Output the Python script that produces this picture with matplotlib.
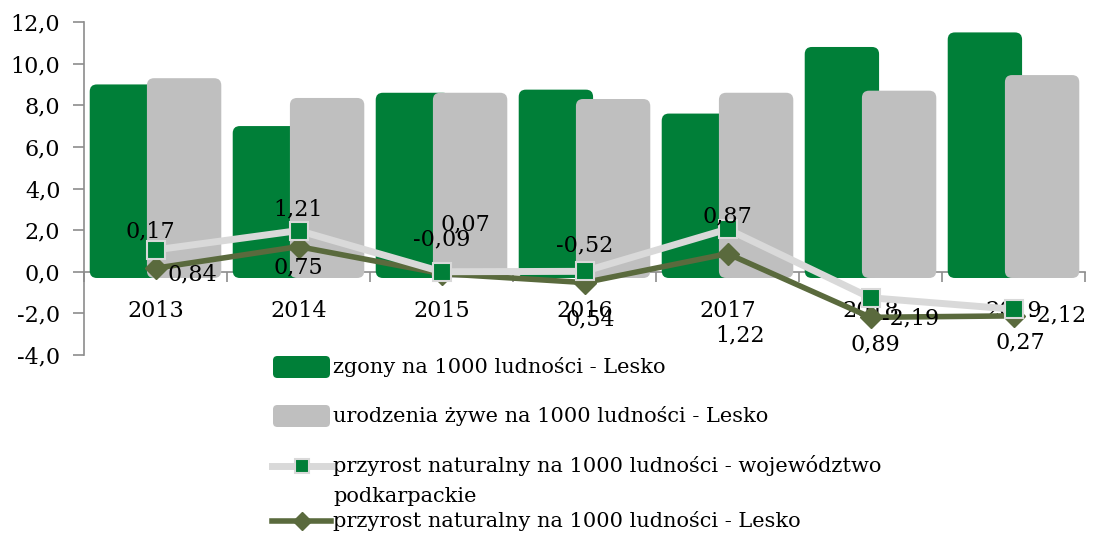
import matplotlib
matplotlib.use("Agg")
import matplotlib.pyplot as plt
from matplotlib.patches import FancyBboxPatch
from matplotlib.lines import Line2D
import numpy as np

years = ["2013", "2014", "2015", "2016", "2017", "2018", "2019"]
zgony = [9.0, 7.0, 8.6, 8.75, 7.6, 10.8, 11.5]
urodzenia = [9.3, 8.35, 8.6, 8.3, 8.6, 8.7, 9.45]
przyrost_woj = [1.05, 1.98, 0.0, 0.02, 2.05, -1.25, -1.8]
przyrost_lesko = [0.17, 1.21, -0.09, -0.52, 0.87, -2.19, -2.12]
labels_lesko = ["0,17", "1,21", "-0,09", "-0,52", "0,87", "-2,19", "-2,12"]
labels_other = ["0,84", "0,75", "0,07", "0,54", "1,22", "0,89", "0,27"]
y_ticks = [-4, -2, 0, 2, 4, 6, 8, 10, 12]

GREEN = "#007f38"
GRAY = "#bfbfbf"
LIGHT = "#d9d9d9"
OLIVE = "#5a6a3d"
AXIS = "#8c8c8c"
FONT = "DejaVu Serif"
FS = 16
FS_LEG = 15

plt.rcParams["font.family"] = [FONT, "DejaVu Sans"]

W, H = 1100, 534
fig = plt.figure(figsize=(W / 100, H / 100), dpi=100)
ax = fig.add_axes([84 / W, 1 - 355 / H, (1085 - 84) / W, (355 - 22) / H])

x = np.arange(len(years))
ax.set_xlim(-0.5, len(years) - 0.5)
ax.set_ylim(-4, 12)

bw = 0.52
off = 0.2
base = -0.3
xpp = 7 / (1085 - 84)
ypp = 16 / (355 - 22)
asp = ypp / xpp
for vals, sign, col, z in [(zgony, -1, GREEN, 2), (urodzenia, 1, GRAY, 3)]:
    for xi, v in zip(x, vals):
        p = FancyBboxPatch((xi + sign * off - bw / 2, base), bw, v - base,
                           boxstyle="round,pad=0,rounding_size=0.05",
                           mutation_aspect=asp, facecolor=col, edgecolor="none", zorder=z)
        ax.add_patch(p)

ax.plot(x, przyrost_lesko, color=OLIVE, lw=4, marker="D", ms=11,
        markerfacecolor=OLIVE, markeredgecolor=OLIVE, zorder=5)
ax.plot(x, przyrost_woj, color=LIGHT, lw=5, marker="s", ms=13,
        markerfacecolor=GREEN, markeredgecolor=LIGHT, markeredgewidth=1.5, zorder=6)

off_lesko = [(-5, 37), (0, 37), (0, 34), (0, 37), (0, 37), (40, -1), (44, 0)]
for xi, v, t, o in zip(x, przyrost_lesko, labels_lesko, off_lesko):
    ax.annotate(t, (xi, v), xytext=o, textcoords="offset pixels", ha="center", va="center",
                fontsize=FS, zorder=8)
off_other = [(37, -25), (0, -37), (24, 47), (6, -48), (13, -106), (5, -47), (7, -33)]
for xi, v, t, o in zip(x, przyrost_woj, labels_other, off_other):
    ax.annotate(t, (xi, v), xytext=o, textcoords="offset pixels", ha="center", va="center",
                fontsize=FS, zorder=8)

for s in ["top", "right"]:
    ax.spines[s].set_visible(False)
ax.spines["left"].set_color(AXIS)
ax.spines["left"].set_linewidth(1.2)
ax.spines["bottom"].set_position(("data", 0))
ax.spines["bottom"].set_color(AXIS)
ax.spines["bottom"].set_linewidth(1.2)
ax.spines["bottom"].set_zorder(1)
ax.set_yticks(y_ticks)
ax.set_yticklabels([f"{v:.1f}".replace(".", ",") for v in y_ticks], fontsize=FS)
ax.tick_params(axis="y", length=8, width=1.2, color=AXIS, pad=9)
ax.set_xticks(x)
ax.set_xticklabels(years, fontsize=FS)
ax.tick_params(axis="x", which="major", length=0, pad=20)
ax.set_xticks(np.arange(-0.5, len(years)), minor=True)
ax.tick_params(axis="x", which="minor", length=7, width=1.2, color=AXIS, direction="out")
ax.patch.set_alpha(0)

def fx(px):
    return px / W

def fy(py):
    return 1 - py / H

tf = fig.transFigure
for py, col in [(367, GREEN), (416, GRAY)]:
    fig.patches.append(FancyBboxPatch((fx(273), fy(py + 11)), fx(330) - fx(273), fy(py - 11) - fy(py + 11),
                                      boxstyle="round,pad=0,rounding_size=0.004",
                                      transform=tf, facecolor=col, edgecolor="none",
                                      mutation_aspect=W / H))
fig.lines.append(Line2D([fx(272), fx(331)], [fy(466), fy(466)], transform=tf, color=LIGHT, lw=5))
fig.lines.append(Line2D([fx(301.5)], [fy(466)], transform=tf, color=LIGHT, lw=0, marker="s", ms=10,
                        markerfacecolor=GREEN, markeredgecolor=LIGHT, markeredgewidth=1.5))
fig.lines.append(Line2D([fx(272), fx(331)], [fy(521), fy(521)], transform=tf, color=OLIVE, lw=4))
fig.lines.append(Line2D([fx(301.5)], [fy(521)], transform=tf, color=OLIVE, lw=0, marker="D", ms=9))

leg_texts = [
    (367, "zgony na 1000 ludności - Lesko"),
    (416, "urodzenia żywe na 1000 ludności - Lesko"),
    (466, "przyrost naturalny na 1000 ludności - województwo"),
    (497, "podkarpackie"),
    (521, "przyrost naturalny na 1000 ludności - Lesko"),
]
for py, t in leg_texts:
    fig.text(fx(333), fy(py), t, ha="left", va="center", fontsize=FS_LEG)

fig.savefig("out.png", dpi=100)
